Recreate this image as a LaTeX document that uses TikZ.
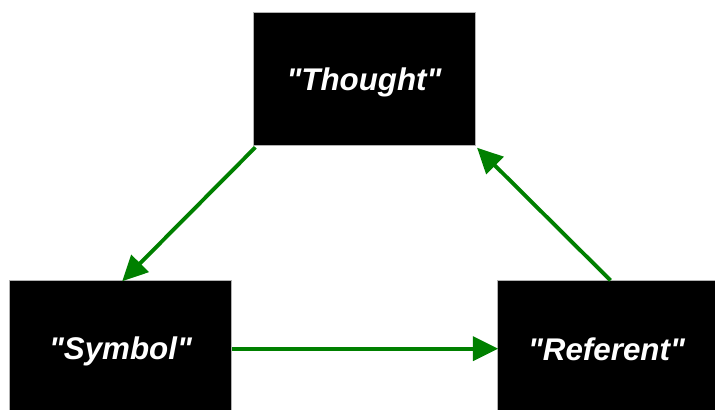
\documentclass[tikz,border=0pt]{standalone}
\usepackage{fontspec}
\setmainfont{Liberation Sans}
\usetikzlibrary{arrows.meta}
\newcommand{\qt}[2]{\raisebox{-#1}[0pt][0pt]{\textquotedbl#2\textquotedbl}}
\begin{document}
\begin{tikzpicture}[x=0.75pt,y=-0.75pt,
  box/.style={draw=gray!60,line width=0.5pt,fill=black,text=white,inner sep=0pt,
    font=\fontsize{23.5}{27}\selectfont\bfseries\itshape},
  conn/.style={draw={rgb,255:red,0;green,128;blue,0},line width=2.9pt,
    -{Triangle[length=19pt,width=18pt]},shorten >=-1pt}]
\useasboundingbox (0,0) rectangle (715,410);
\node[box,minimum width=166.5pt,minimum height=100pt] (T) at (364,79) {\qt{8.6pt}{Thought}};
\node[box,minimum width=166.5pt,minimum height=98pt] (S) at (120.5,346) {\qt{10pt}{Symbol}};
\node[box,minimum width=164pt,minimum height=98pt] (R) at (606.5,346) {\qt{10.5pt}{Referent}};
\draw[conn] ([xshift=2pt,yshift=-1pt]T.south west) -- ([xshift=2pt]S.north);
\draw[conn] ([yshift=-2pt]S.east) -- ([yshift=-2pt]R.west);
\draw[conn] ([xshift=3pt]R.north) -- ([xshift=2pt,yshift=-2pt]T.south east);
\end{tikzpicture}
\end{document}
